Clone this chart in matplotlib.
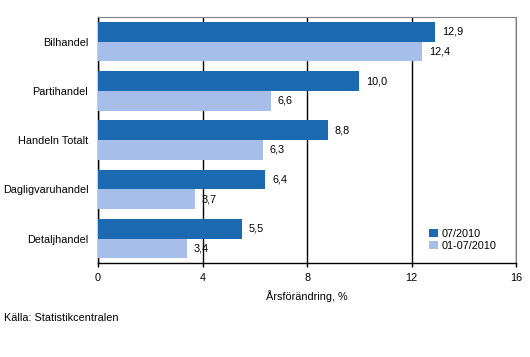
import matplotlib.pyplot as plt
import numpy as np

plt.rcParams['font.family'] = ['Liberation Sans', 'DejaVu Sans']

categories = ["Bilhandel", "Partihandel", "Handeln Totalt", "Dagligvaruhandel", "Detaljhandel"]
month = [12.9, 10.0, 8.8, 6.4, 5.5]
period = [12.4, 6.6, 6.3, 3.7, 3.4]
labels = ["07/2010", "01-07/2010"]

dark = "#1A69B1"
light = "#A7BDEA"
fs = 7.8

fig = plt.figure(figsize=(5.3, 3.57), dpi=100)
ax = fig.add_axes([0.185, 0.263, 0.789, 0.689])

y = np.arange(len(categories))
h = 0.4
b1 = ax.barh(y - h / 2, month, height=h, color=dark, label=labels[0], zorder=3)
b2 = ax.barh(y + h / 2, period, height=h, color=light, label=labels[1], zorder=3)

for bars, vals in ((b1, month), (b2, period)):
    for bar, v in zip(bars, vals):
        ax.annotate(f"{v:.1f}".replace(".", ","),
                    (v, bar.get_y() + bar.get_height() / 2),
                    xytext=(5, 0), textcoords="offset points",
                    va="center", ha="left", fontsize=fs, zorder=4)

ax.set_xlim(0, 16)
ax.set_ylim(len(categories) - 0.5, -0.5)
ax.set_xticks([0, 4, 8, 12, 16])
ax.set_yticks(y)
ax.set_yticklabels(categories)
ax.tick_params(axis="y", length=0, pad=7, labelsize=fs)
ax.tick_params(axis="x", length=3, width=1, labelsize=fs, pad=4)
ax.xaxis.grid(True, color="black", linewidth=1, zorder=0)
ax.set_axisbelow(True)

for s in ("top", "right"):
    ax.spines[s].set_color("#808080")
for s in ("left", "bottom"):
    ax.spines[s].set_color("black")
    ax.spines[s].set_linewidth(1)

ax.set_xlabel("Årsförändring, %", fontsize=fs, labelpad=5)

ax.legend(loc="lower right", bbox_to_anchor=(0.97, 0.02), frameon=False,
          fontsize=fs, handlelength=0.8, handleheight=0.8, handletextpad=0.3,
          labelspacing=0.15, borderpad=0.2)

fig.text(0.008, 0.108, "Källa: Statistikcentralen", fontsize=fs, ha="left", va="center")

fig.savefig("out.png", dpi=100)
